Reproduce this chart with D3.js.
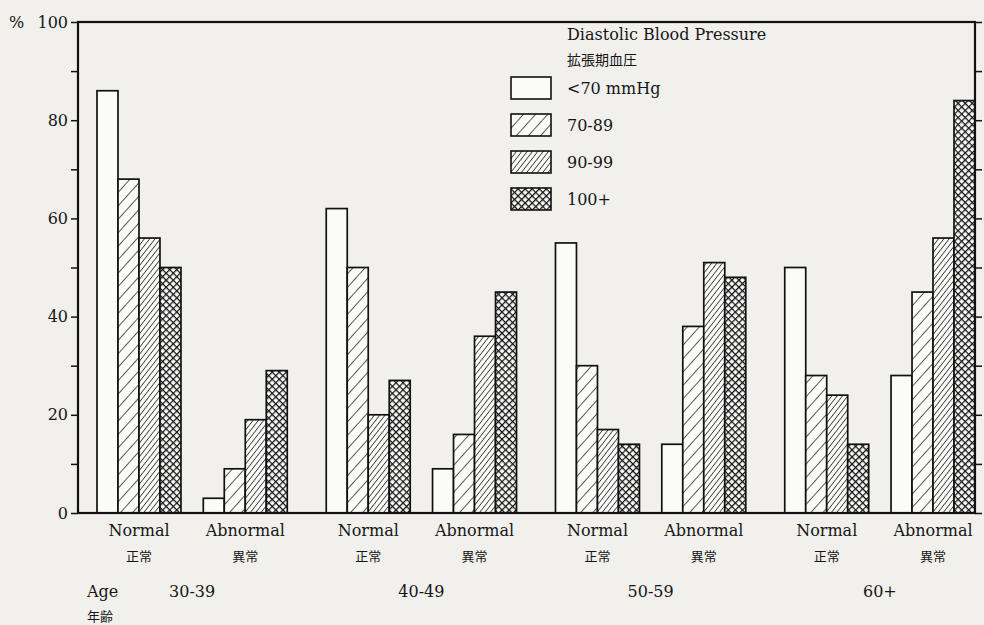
<!DOCTYPE html>
<html>
<head>
<meta charset="utf-8">
<script src="https://cdn.jsdelivr.net/npm/d3@7"></script>
<style>
  body { margin: 0; background: #f1f0ed; }
  text { font-family: 'DejaVu Serif', serif; fill: #161616; }
  .jp { font-family: 'Noto Sans CJK JP', sans-serif; }
</style>
</head>
<body>
<div id="chart"></div>
<script>
let ages = ['30-39', '40-49', '50-59', '60+']
let statuses = ['Normal', 'Abnormal']
let statusesJp = ['正常', '異常']
let pressures = ['<70 mmHg', '70-89', '90-99', '100+']
// percent per age group, one value per pressure class
let normalValues = [[86, 68, 56, 50], [62, 50, 20, 27], [55, 30, 17, 14], [50, 28, 24, 14]]
let abnormalValues = [[3, 9, 19, 29], [9, 16, 36, 45], [14, 38, 51, 48], [28, 45, 56, 84]]
let yTicks = d3.range(0, 101, 10)

let width = 984
let height = 625
let plot = { left: 78, right: 975, top: 22, bottom: 513 }

let svg = d3
  .select('#chart')
  .append('svg')
  .attr('width', width)
  .attr('height', height)

let defs = svg.append('defs')

// sparse "/" hatch
let p1 = defs.append('pattern')
  .attr('id', 'hatch1')
  .attr('patternUnits', 'userSpaceOnUse')
  .attr('width', 9).attr('height', 9)
  .attr('patternTransform', 'rotate(42)')
p1.append('rect').attr('width', 9).attr('height', 9).attr('fill', '#fbfbfa')
p1.append('line').attr('x1', 0).attr('y1', 0).attr('x2', 0).attr('y2', 9)
  .attr('stroke', '#111').attr('stroke-width', 1.4)

// dense "/" hatch
let p2 = defs.append('pattern')
  .attr('id', 'hatch2')
  .attr('patternUnits', 'userSpaceOnUse')
  .attr('width', 4.2).attr('height', 4.2)
  .attr('patternTransform', 'rotate(38)')
p2.append('rect').attr('width', 4.2).attr('height', 4.2).attr('fill', '#fbfbfa')
p2.append('line').attr('x1', 0).attr('y1', 0).attr('x2', 0).attr('y2', 4.2)
  .attr('stroke', '#111').attr('stroke-width', 1.4)

// cross hatch
let p3 = defs.append('pattern')
  .attr('id', 'hatch3')
  .attr('patternUnits', 'userSpaceOnUse')
  .attr('width', 5).attr('height', 5)
  .attr('patternTransform', 'rotate(45)')
p3.append('rect').attr('width', 5).attr('height', 5).attr('fill', '#fbfbfa')
p3.append('line').attr('x1', 0).attr('y1', 0).attr('x2', 0).attr('y2', 5)
  .attr('stroke', '#111').attr('stroke-width', 2.5)
p3.append('line').attr('x1', 0).attr('y1', 0).attr('x2', 5).attr('y2', 0)
  .attr('stroke', '#111').attr('stroke-width', 2.5)

let fillScale = d3.scaleOrdinal()
  .domain(pressures)
  .range(['#fbfbfa', 'url(#hatch1)', 'url(#hatch2)', 'url(#hatch3)'])

let yPositionScale = d3.scaleLinear().domain([0, 100]).range([plot.bottom, plot.top])

let ageScale = d3.scaleBand()
  .domain(ages)
  .range([97, plot.right])
  .paddingInner(0.17)

let statusScale = d3.scaleBand()
  .domain(statuses)
  .range([0, ageScale.bandwidth()])
  .paddingInner(0.21)

let pressureScale = d3.scaleBand()
  .domain(pressures)
  .range([0, statusScale.bandwidth()])

let datapoints = []
ages.forEach((age, i) => {
  pressures.forEach((p, j) => {
    datapoints.push({ age: age, status: 'Normal', pressure: p, value: normalValues[i][j] })
    datapoints.push({ age: age, status: 'Abnormal', pressure: p, value: abnormalValues[i][j] })
  })
})

// axes
let yAxis = d3.axisLeft(yPositionScale)
  .tickValues(yTicks)
  .tickSize(7)
  .tickPadding(3)
  .tickFormat(d => (d % 20 === 0 ? d : ''))
let yAxisG = svg.append('g')
  .attr('class', 'axis y-axis')
  .attr('transform', 'translate(' + plot.left + ',0)')
  .call(yAxis)
yAxisG.select('.domain').remove()
yAxisG.selectAll('line').attr('stroke', '#111').attr('stroke-width', 1.5)
yAxisG.selectAll('text')
  .attr('font-size', 16)
  .attr('font-family', 'DejaVu Serif, serif')
  .attr('fill', '#161616')

let rAxis = d3.axisRight(yPositionScale)
  .tickValues(yTicks)
  .tickSize(7)
  .tickFormat('')
let rAxisG = svg.append('g')
  .attr('class', 'axis r-axis')
  .attr('transform', 'translate(' + plot.right + ',0)')
  .call(rAxis)
rAxisG.select('.domain').remove()
rAxisG.selectAll('line').attr('stroke', '#111').attr('stroke-width', 1.5)

svg.append('text')
  .attr('x', 9)
  .attr('y', yPositionScale(100) + 6)
  .attr('font-size', 16)
  .text('%')

// bars
svg.append('g')
  .selectAll('rect')
  .data(datapoints)
  .enter()
  .append('rect')
  .attr('x', d => ageScale(d.age) + statusScale(d.status) + pressureScale(d.pressure))
  .attr('y', d => yPositionScale(d.value))
  .attr('width', pressureScale.bandwidth())
  .attr('height', d => yPositionScale(0) - yPositionScale(d.value))
  .attr('fill', d => fillScale(d.pressure))
  .attr('stroke', '#111')
  .attr('stroke-width', 1.7)

// frame
svg.append('rect')
  .attr('x', plot.left)
  .attr('y', plot.top)
  .attr('width', plot.right - plot.left)
  .attr('height', plot.bottom - plot.top)
  .attr('fill', 'none')
  .attr('stroke', '#111')
  .attr('stroke-width', 2.2)

// group labels
ages.forEach(age => {
  statuses.forEach((s, i) => {
    let cx = ageScale(age) + statusScale(s) + statusScale.bandwidth() / 2
    svg.append('text')
      .attr('x', cx)
      .attr('y', 536)
      .attr('text-anchor', 'middle')
      .attr('font-size', 16)
      .text(s)
    svg.append('text')
      .attr('class', 'jp')
      .attr('x', cx)
      .attr('y', 561)
      .attr('text-anchor', 'middle')
      .attr('font-size', 13)
      .text(statusesJp[i])
  })
  svg.append('text')
    .attr('x', ageScale(age) + ageScale.bandwidth() / 2)
    .attr('y', 597)
    .attr('text-anchor', 'middle')
    .attr('font-size', 16)
    .text(age)
})

svg.append('text')
  .attr('x', 87)
  .attr('y', 597)
  .attr('font-size', 16)
  .text('Age')
svg.append('text')
  .attr('class', 'jp')
  .attr('x', 87)
  .attr('y', 621)
  .attr('font-size', 13)
  .text('年齢')

// legend
let legend = svg.append('g').attr('transform', 'translate(511,0)')
legend.append('text')
  .attr('x', 56)
  .attr('y', 40)
  .attr('font-size', 16)
  .text('Diastolic Blood Pressure')
legend.append('text')
  .attr('class', 'jp')
  .attr('x', 56)
  .attr('y', 65)
  .attr('font-size', 14)
  .text('拡張期血圧')

let legendItems = legend.selectAll('.item')
  .data(pressures)
  .enter()
  .append('g')
  .attr('class', 'item')
  .attr('transform', (d, i) => 'translate(0,' + (77 + i * 37) + ')')
legendItems.append('rect')
  .attr('width', 40)
  .attr('height', 22)
  .attr('fill', d => fillScale(d))
  .attr('stroke', '#111')
  .attr('stroke-width', 1.6)
legendItems.append('text')
  .attr('x', 56)
  .attr('y', 17)
  .attr('font-size', 16)
  .text(d => d)
</script>
</body>
</html>
